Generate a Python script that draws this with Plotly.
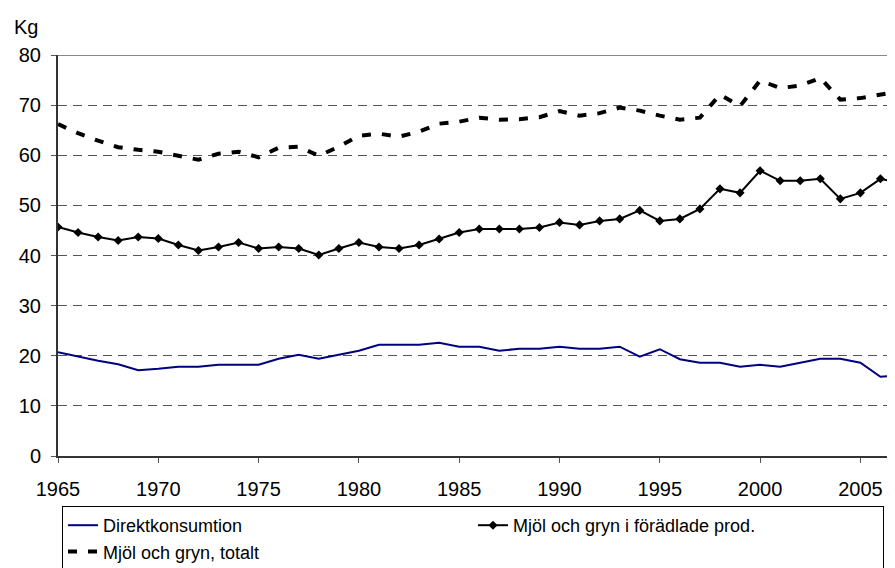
import plotly.graph_objects as go

years = list(range(1965, 2008))

direkt = [20.7, 19.8, 19.0, 18.3, 17.1, 17.4, 17.8, 17.8, 18.2, 18.2,
          18.2, 19.4, 20.2, 19.4, 20.2, 21.0, 22.2, 22.2, 22.2, 22.6,
          21.8, 21.8, 21.0, 21.4, 21.4, 21.8, 21.4, 21.4, 21.8, 19.8,
          21.3, 19.3, 18.6, 18.6, 17.8, 18.2, 17.8, 18.6, 19.4, 19.4,
          18.6, 15.8, 16.2]

foradlade = [45.7, 44.6, 43.7, 43.0, 43.7, 43.4, 42.1, 41.0, 41.7, 42.6,
             41.4, 41.7, 41.4, 40.1, 41.4, 42.6, 41.7, 41.4, 42.1, 43.3,
             44.6, 45.3, 45.3, 45.3, 45.6, 46.6, 46.1, 46.9, 47.3, 49.0,
             46.9, 47.3, 49.3, 53.3, 52.5, 56.9, 54.9, 54.9, 55.3, 51.3,
             52.5, 55.3, 54.4]

totalt = [66.2, 64.4, 62.9, 61.6, 61.1, 60.7, 59.9, 59.1, 60.3, 60.7,
          59.6, 61.5, 61.7, 59.9, 61.7, 63.9, 64.3, 63.7, 64.7, 66.3,
          66.7, 67.5, 67.1, 67.2, 67.6, 68.8, 67.9, 68.4, 69.5, 68.9,
          67.9, 67.1, 67.5, 72.1, 69.8, 74.9, 73.4, 73.9, 75.4, 71.1,
          71.4, 72.1, 72.8]

series_names = ["Direktkonsumtion", "Mjöl och gryn i förädlade prod.", "Mjöl och gryn, totalt"]
x_ticks = list(range(1965, 2010, 5))
y_ticks = list(range(0, 90, 10))

FONT = "Liberation Sans, Arial, sans-serif"

fig = go.Figure()
fig.add_trace(go.Scatter(x=years, y=direkt, name=series_names[0], mode="lines",
                         line=dict(color="#000080", width=2)))
fig.add_trace(go.Scatter(x=years, y=foradlade, name=series_names[1], mode="lines+markers",
                         line=dict(color="#000000", width=2),
                         marker=dict(symbol="diamond", size=7, color="#000000")))
fig.add_trace(go.Scatter(x=years, y=totalt, name=series_names[2], mode="lines",
                         line=dict(color="#000000", width=4, dash="9px,11px")))

# page body has an 8px margin: figure coordinates = viewport - 8
OFF = 8
W, H = 895 - 2 * OFF, 568 - OFF
L, T, B = 58 - OFF, 55 - OFF, 456 - OFF
PW, PH = W - L, B - T
fig.update_layout(
    width=W, height=H,
    margin=dict(l=L, r=0, t=T, b=H - B, pad=0, autoexpand=False),
    paper_bgcolor="white", plot_bgcolor="white",
    font=dict(family=FONT, size=20, color="black"),
    showlegend=True,
    legend=dict(orientation="h", x=(62 - 58) / PW, xanchor="left",
                y=-(506 - 456) / PH, yanchor="top",
                bordercolor="black", borderwidth=1, bgcolor="white",
                entrywidth=365, entrywidthmode="pixels",
                font=dict(family=FONT, size=18), tracegroupgap=0, itemwidth=30),
    xaxis=dict(range=[1965, 1965 + PW / 20.06], tickvals=x_ticks,
               showgrid=False, zeroline=False, showline=True, linecolor="#333333",
               linewidth=2, ticks="outside", ticklen=5, tickcolor="#555555",
               tickwidth=1, tickfont=dict(family=FONT, size=20), ticklabelstandoff=9),
    yaxis=dict(range=[0, 80], tickvals=y_ticks, showgrid=True, gridcolor="#555555",
               griddash="9px,6px", gridwidth=1, zeroline=False, showline=True,
               linecolor="#333333", linewidth=2, ticks="outside", ticklen=5,
               tickcolor="#555555", tickwidth=1, tickfont=dict(family=FONT, size=20),
               ticklabelstandoff=6),
)
fig.add_shape(type="line", xref="x domain", yref="y", x0=0, x1=1, y0=80, y1=80,
              line=dict(color="#888888", width=2), layer="above")
fig.add_annotation(text="Kg", xref="paper", yref="paper",
                   x=(12 - 58) / PW, y=(456 - 40) / PH,
                   xanchor="left", yanchor="bottom", showarrow=False,
                   font=dict(family=FONT, size=20))

fig.write_html("out.html")
